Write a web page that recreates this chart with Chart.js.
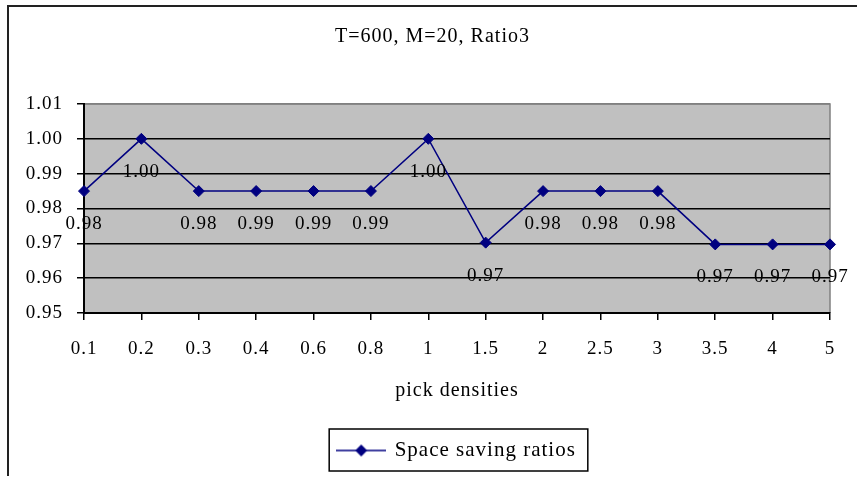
<!DOCTYPE html>
<html>
<head>
<meta charset="utf-8">
<script src="https://cdn.jsdelivr.net/npm/chart.js@4"></script>
<style>
  html, body { margin: 0; padding: 0; background: #fff; }
  #wrap { width: 857px; height: 477px; position: relative; }
</style>
</head>
<body>
<div id="wrap"><canvas id="ratioChart"></canvas></div>
<script>
// pick density categories and the measured space saving ratio for each
const densities = ['0.1', '0.2', '0.3', '0.4', '0.6', '0.8', '1', '1.5', '2', '2.5', '3', '3.5', '4', '5'];
const savingRatios = [0.98499, 1.0, 0.98499, 0.98501, 0.98501, 0.98501, 1.0, 0.9702, 0.98499, 0.98499, 0.98499, 0.9697, 0.9697, 0.9697];
const yTicks = [0.95, 0.96, 0.97, 0.98, 0.99, 1.00, 1.01];

const serif = 'Liberation Serif';
const navy = '#000080';

// legend sample: short line with a diamond on it
function legendSample() {
  const c = document.createElement('canvas');
  c.width = 50; c.height = 14;
  const g = c.getContext('2d');
  g.strokeStyle = navy; g.lineWidth = 1.5;
  g.beginPath(); g.moveTo(0, 7); g.lineTo(50, 7); g.stroke();
  g.fillStyle = navy;
  g.beginPath(); g.moveTo(25, 1); g.lineTo(31, 7); g.lineTo(25, 13); g.lineTo(19, 7); g.closePath(); g.fill();
  return c;
}
const sample = legendSample();

// grey plot area, outer frame, legend frame
const framePlugin = {
  id: 'frames',
  beforeUpdate(chart) { chart.ctx.letterSpacing = '1px'; },
  beforeDraw(chart) {
    const {ctx, chartArea: a} = chart;
    ctx.letterSpacing = '1px';
    ctx.save();
    ctx.fillStyle = '#c0c0c0';
    ctx.fillRect(a.left, a.top, a.right - a.left, a.bottom - a.top);
    ctx.strokeStyle = '#808080';
    ctx.lineWidth = 1.5;
    ctx.beginPath();
    ctx.moveTo(a.left, a.top); ctx.lineTo(a.right, a.top); ctx.lineTo(a.right, a.bottom);
    ctx.stroke();
    // chart border (top and left edges)
    ctx.strokeStyle = '#222';
    ctx.lineWidth = 2;
    ctx.beginPath();
    ctx.moveTo(8, 476); ctx.lineTo(8, 6); ctx.lineTo(857, 6);
    ctx.stroke();
    ctx.restore();
  },
  afterDraw(chart) {
    const boxes = chart.legend.legendHitBoxes;
    if (!boxes || !boxes.length) return;
    const b = boxes[0];
    const ctx = chart.ctx;
    ctx.save();
    ctx.strokeStyle = '#000';
    ctx.lineWidth = 1.5;
    ctx.strokeRect(b.left - 9, b.top - 11, b.width + 21, b.height + 21);
    ctx.restore();
  }
};

// value labels under each point
const valueLabels = {
  id: 'valueLabels',
  afterDatasetsDraw(chart) {
    const ctx = chart.ctx;
    const meta = chart.getDatasetMeta(0);
    ctx.save();
    ctx.font = '19px "' + serif + '"';
    ctx.fillStyle = '#000';
    ctx.textAlign = 'center';
    ctx.textBaseline = 'middle';
    meta.data.forEach((pt, i) => {
      ctx.fillText(savingRatios[i].toFixed(2), pt.x, pt.y + 33);
    });
    ctx.restore();
  }
};

const ctx = document.getElementById('ratioChart').getContext('2d');
const ratioChart = new Chart(ctx, {
  type: 'line',
  data: {
    labels: densities,
    datasets: [{
      label: 'Space saving ratios',
      data: savingRatios,
      borderColor: navy,
      backgroundColor: navy,
      borderWidth: 1.5,
      pointStyle: 'rectRot',
      pointRadius: 5.5,
      pointBorderWidth: 1,
      pointBackgroundColor: navy,
      pointBorderColor: navy,
      tension: 0
    }]
  },
  options: {
    responsive: true,
    maintainAspectRatio: false,
    animation: false,
    layout: { padding: { left: 8, right: 0, top: 6, bottom: 6 } },
    plugins: {
      title: {
        display: true,
        text: 'T=600, M=20, Ratio3',
        color: '#000',
        font: { family: serif, size: 20, weight: 'normal' },
        padding: { top: 19, bottom: 55 }
      },
      legend: {
        position: 'bottom',
        fullSize: false,
        labels: {
          color: '#000',
          font: { family: serif, size: 21 },
          usePointStyle: true,
          pointStyleWidth: 46,
          generateLabels(chart) {
            const items = Chart.defaults.plugins.legend.labels.generateLabels(chart);
            items.forEach(it => { it.pointStyle = sample; });
            return items;
          }
        }
      },
      tooltip: { enabled: false }
    },
    scales: {
      x: {
        offset: false,
        afterFit(scale) { scale.height = 117; },
        grid: { drawOnChartArea: false, tickLength: 7, color: '#000', lineWidth: 1.5 },
        border: { color: '#000', width: 2 },
        ticks: { color: '#000', font: { family: serif, size: 19 }, padding: 18, maxRotation: 0, autoSkip: false },
        title: {
          display: true,
          text: 'pick densities',
          color: '#000',
          font: { family: serif, size: 20 },
          padding: { top: 0, bottom: 27 }
        }
      },
      y: {
        min: 0.95,
        max: 1.01,
        afterFit(scale) { scale.width = 76; },
        afterBuildTicks(scale) { scale.ticks = yTicks.map(v => ({ value: v })); },
        grid: {
          color: c => (c.tick && c.tick.value > 1.005 ? '#808080' : '#000'),
          tickColor: '#000',
          tickLength: 7,
          lineWidth: 1.5
        },
        border: { color: '#000', width: 2 },
        ticks: {
          color: '#000',
          font: { family: serif, size: 19 },
          padding: 14,
          callback: v => Number(v).toFixed(2)
        }
      },
      // empty right-hand margin so the title centres on the whole frame
      yRight: {
        position: 'right',
        min: 0.95,
        max: 1.01,
        afterFit(scale) { scale.width = 27; },
        grid: { display: false },
        border: { display: false },
        ticks: { display: false }
      }
    }
  },
  plugins: [framePlugin, valueLabels]
});
</script>
</body>
</html>
